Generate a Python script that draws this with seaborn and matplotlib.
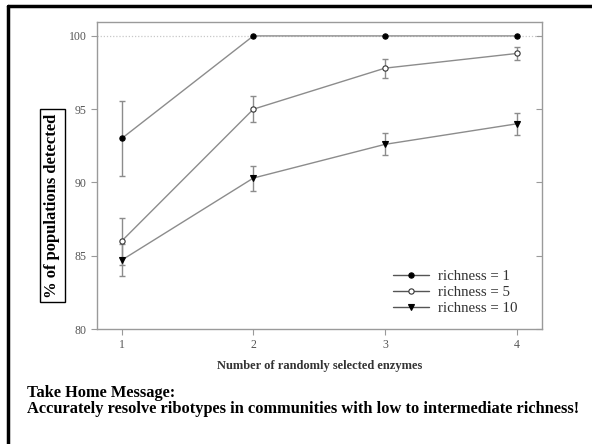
import matplotlib
matplotlib.use("Agg")
import matplotlib.pyplot as plt
import seaborn as sns
import pandas as pd
from matplotlib.lines import Line2D

# Detection rate by number of enzymes, for three community richness levels
enzymes = [1, 2, 3, 4]
rich1_mean = [93.0, 100.0, 100.0, 100.0]
rich1_err = [2.55, 0.0, 0.0, 0.0]
rich5_mean = [86.0, 95.0, 97.8, 98.8]
rich5_err = [1.6, 0.87, 0.65, 0.47]
rich10_mean = [84.7, 90.3, 92.6, 94.0]
rich10_err = [1.1, 0.85, 0.75, 0.73]
series_labels = ["richness = 1", "richness = 5", "richness = 10"]
y_ticks = [80, 85, 90, 95, 100]

sns.set_theme(style="white")
plt.rcParams["font.family"] = ["Liberation Serif", "DejaVu Serif"]

LINE = "#8c8c8c"
SPINE = "#9a9a9a"
TICKTXT = "#555555"

fig = plt.figure(figsize=(5.92, 4.44), dpi=100)
ax = fig.add_axes([0.1633, 0.259, 0.7517, 0.6915])

ax.axhline(100, color="#c8c8c8", lw=0.9, ls=(0, (1, 1.5)), zorder=0)

styles = [
    dict(marker="o", mfc="black", mec="black", ms=3.8),
    dict(marker="o", mfc="white", mec="#333333", ms=3.8),
    dict(marker="v", mfc="black", mec="black", ms=4.5),
]
means = [rich1_mean, rich5_mean, rich10_mean]
errs = [rich1_err, rich5_err, rich10_err]

frames = []
for lab, m, e in zip(series_labels, means, errs):
    frames.append(pd.DataFrame({"enzymes": enzymes, "detected": m,
                                "err": e, "richness": lab}))
df = pd.concat(frames, ignore_index=True)

handles = []
for lab, st in zip(series_labels, styles):
    sub = df[df["richness"] == lab]
    has_err = sub["err"] > 0
    ax.errorbar(sub["enzymes"][has_err], sub["detected"][has_err],
                yerr=sub["err"][has_err], fmt="none", ecolor=LINE,
                elinewidth=1.0, capsize=2.5, capthick=1.0, zorder=2)
    sns.lineplot(data=sub, x="enzymes", y="detected", ax=ax, color=LINE,
                 lw=1.0, marker=st["marker"], markersize=st["ms"],
                 markerfacecolor=st["mfc"], markeredgecolor=st["mec"],
                 markeredgewidth=0.8, zorder=3, legend=False)
    handles.append(Line2D([0], [0], color="#555555", lw=1.0,
                          marker=st["marker"], markersize=st["ms"],
                          markerfacecolor=st["mfc"], markeredgecolor=st["mec"],
                          markeredgewidth=0.8))

ax.set_xlim(0.81, 4.19)
ax.set_ylim(80, 100.95)
ax.set_xticks(enzymes)
ax.set_yticks(y_ticks)
ax.set_xticklabels([str(v) for v in enzymes])
ax.set_yticklabels([str(v) for v in y_ticks])
ax.tick_params(axis="both", direction="out", length=4, width=0.8,
               color=SPINE, labelcolor=TICKTXT, labelsize=8.5, pad=3,
               bottom=True, left=True)
for sp in ax.spines.values():
    sp.set_color(SPINE)
    sp.set_linewidth(1.0)

# inward ticks along the right edge
right = ax.secondary_yaxis("right")
right.set_yticks(y_ticks)
right.tick_params(direction="in", length=4, width=0.8, color=SPINE,
                  labelright=False)
right.spines["right"].set_visible(False)

ax.set_xlabel("Number of randomly selected enzymes", fontsize=9,
              fontweight="bold", color="#333333", labelpad=7)
ax.set_ylabel("")

fig.text(52.5 / 592, 1 - 205.5 / 444, "% of populations detected",
         rotation=90, ha="center", va="center", fontsize=12,
         fontweight="bold", color="black",
         bbox=dict(boxstyle="square,pad=0.25", fc="white", ec="black", lw=1.0))

leg = ax.legend(handles, series_labels, loc="lower right", frameon=False,
                fontsize=10.7, handlelength=2.4, handletextpad=0.6,
                labelspacing=0.2, bbox_to_anchor=(0.965, 0.015),
                borderaxespad=0.2)
for t in leg.get_texts():
    t.set_color("#333333")

fig.text(27 / 592, 1 - 397 / 444, "Take Home Message:", ha="left",
         va="baseline", fontsize=11.8, fontweight="bold", color="black")
fig.text(27 / 592, 1 - 413 / 444,
         "Accurately resolve ribotypes in communities with low to intermediate richness!",
         ha="left", va="baseline", fontsize=11.8, fontweight="bold", color="black")

# slide frame: top and left edges
fig.add_artist(Line2D([7.5 / 592, 7.5 / 592], [0, 1 - 6 / 444], color="black",
                      lw=2.5, transform=fig.transFigure))
fig.add_artist(Line2D([7.5 / 592, 1], [1 - 6 / 444, 1 - 6 / 444], color="black",
                      lw=2.5, transform=fig.transFigure))

fig.savefig("out.png", dpi=100)
